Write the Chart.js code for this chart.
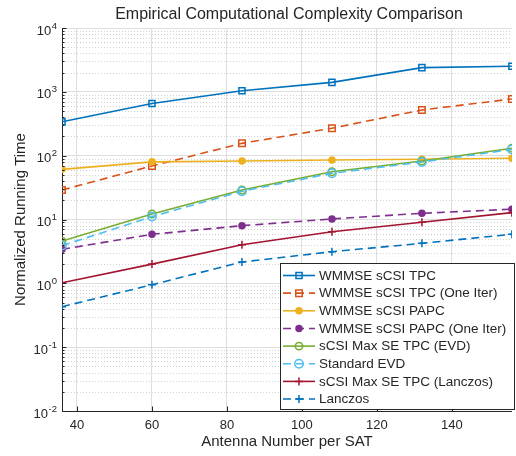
<!DOCTYPE html>
<html>
<head>
<meta charset="utf-8">
<script src="https://cdn.jsdelivr.net/npm/chart.js@4.4.0/dist/chart.umd.min.js"></script>
<style>
html, body { margin: 0; padding: 0; background: #fff; }
#wrap { width: 516px; height: 456px; overflow: hidden; }
</style>
</head>
<body>
<div id="wrap"><canvas id="complexity" width="518" height="456"></canvas></div>
<script>
// values
var antennas = [36, 60, 84, 108, 132, 156];
var wmmseTpc = [340, 656, 1037, 1407, 2392, 2517];
var wmmseTpcOne = [29, 69, 156, 269, 520, 773];
var wmmsePapc = [61, 80, 82.6, 85.7, 87.8, 91];
var wmmsePapcOne = [3.41, 5.86, 8.0, 10.2, 12.5, 14.5];
var maxSeEvd = [4.6, 12.2, 29, 56, 82.6, 131];
var standardEvd = [3.9, 11.1, 27.7, 53, 79.6, 125];
var maxSeLanczos = [1.02, 2.0, 4.03, 6.44, 9.04, 12.8];
var lanczos = [0.43, 0.95, 2.16, 3.13, 4.24, 5.86];

var seriesNames = [
    "WMMSE sCSI TPC",
    "WMMSE sCSI TPC (One Iter)",
    "WMMSE sCSI PAPC",
    "WMMSE sCSI PAPC (One Iter)",
    "sCSI Max SE TPC (EVD)",
    "Standard EVD",
    "sCSI Max SE TPC (Lanczos)",
    "Lanczos"
];
var seriesValues = [wmmseTpc, wmmseTpcOne, wmmsePapc, wmmsePapcOne, maxSeEvd, standardEvd, maxSeLanczos, lanczos];
var xTicks = [40, 60, 80, 100, 120, 140];
var yDecades = [-2, -1, 0, 1, 2, 3, 4];
var chartTitle = "Empirical Computational Complexity Comparison";

var FONT = "'Liberation Sans', Arial, Helvetica, sans-serif";
var TEXT = "#262626";
var DASH = [8, 5];

// line styles, MATLAB default colour order
var styles = [
    { color: "#0072BD", dash: [], point: "rect", r: 4.3, fill: false },
    { color: "#D95319", dash: DASH, point: "rect", r: 4.6, fill: false },
    { color: "#EDB120", dash: [], point: "circle", r: 3, fill: true },
    { color: "#7E2F8E", dash: DASH, point: "circle", r: 3, fill: true },
    { color: "#77AC30", dash: [], point: "circle", r: 3.7, fill: false },
    { color: "#4DBEEE", dash: DASH, point: "circle", r: 4.2, fill: false },
    { color: "#A2142F", dash: [], point: "cross", r: 4, fill: false },
    { color: "#0072BD", dash: DASH, point: "cross", r: 4, fill: false }
];

var datasets = [];
for (var i = 0; i < seriesNames.length; i++) {
    var pts = [];
    for (var j = 0; j < antennas.length; j++) {
        pts.push({ x: antennas[j], y: seriesValues[i][j] });
    }
    var s = styles[i];
    datasets.push({
        label: seriesNames[i],
        data: pts,
        borderColor: s.color,
        backgroundColor: s.color,
        borderWidth: 1.6,
        borderDash: s.dash,
        pointStyle: s.point,
        pointRadius: s.r,
        pointHoverRadius: s.r,
        pointBorderWidth: 1.5,
        pointBorderColor: s.color,
        pointBackgroundColor: s.fill ? s.color : "rgba(0,0,0,0)",
        tension: 0,
        order: seriesNames.length - 1 - i
    });
}

function isDecade(v) {
    var l = Math.log10(v);
    return Math.abs(l - Math.round(l)) < 1e-9;
}

var matlabLook = {
    id: "matlabLook",
    // dotted minor grid under the lines
    beforeDatasetsDraw: function(chart) {
        var ctx = chart.ctx;
        var area = chart.chartArea;
        var ys = chart.scales.y;
        ctx.save();
        ctx.strokeStyle = "#d2d2d2";
        ctx.lineWidth = 1;
        ctx.setLineDash([1, 2]);
        ys.ticks.forEach(function(t) {
            if (isDecade(t.value)) return;
            var py = Math.round(ys.getPixelForValue(t.value)) + 0.5;
            ctx.beginPath();
            ctx.moveTo(area.left, py);
            ctx.lineTo(area.right, py);
            ctx.stroke();
        });
        ctx.restore();
    },
    afterDraw: function(chart) {
        var ctx = chart.ctx;
        var area = chart.chartArea;
        var xs = chart.scales.x;
        var ys = chart.scales.y;
        ctx.save();
        // title centred over the axes
        ctx.fillStyle = TEXT;
        ctx.font = "16px " + FONT;
        ctx.textAlign = "center";
        ctx.textBaseline = "middle";
        ctx.fillText(chartTitle, (area.left + 516) / 2, 15);
        // inward ticks
        ctx.strokeStyle = TEXT;
        ctx.lineWidth = 1;
        ctx.setLineDash([]);
        ys.ticks.forEach(function(t) {
            var py = Math.round(ys.getPixelForValue(t.value)) + 0.5;
            var len = isDecade(t.value) ? 4.5 : 2.5;
            ctx.beginPath();
            ctx.moveTo(area.left, py);
            ctx.lineTo(area.left + len, py);
            ctx.stroke();
        });
        xTicks.forEach(function(v) {
            var px = Math.round(xs.getPixelForValue(v)) + 0.5;
            ctx.beginPath();
            ctx.moveTo(px, area.bottom);
            ctx.lineTo(px, area.bottom - 4.5);
            ctx.stroke();
        });
        // y labels 10^n
        yDecades.forEach(function(e) {
            var py = ys.getPixelForValue(Math.pow(10, e));
            var right = area.left - 5;
            var expStr = String(e);
            ctx.font = "9.5px " + FONT;
            var ew = ctx.measureText(expStr).width;
            ctx.textAlign = "right";
            ctx.textBaseline = "alphabetic";
            ctx.fillText(expStr, right, py + 0.5);
            ctx.font = "13px " + FONT;
            ctx.textBaseline = "middle";
            ctx.fillText("10", right - ew - 0.5, py + 3);
        });
        // legend
        var lx = 280.5, ly = 263.5, lw = 234, lh = 146;
        ctx.fillStyle = "#fff";
        ctx.fillRect(lx, ly, lw, lh);
        ctx.strokeStyle = TEXT;
        ctx.lineWidth = 1;
        ctx.strokeRect(lx, ly, lw, lh);
        for (var k = 0; k < seriesNames.length; k++) {
            var st = styles[k];
            var ry = 275.5 + k * 17.65;
            ctx.strokeStyle = st.color;
            ctx.lineWidth = 1.6;
            ctx.setLineDash(st.dash);
            ctx.beginPath();
            ctx.moveTo(283, ry);
            ctx.lineTo(315, ry);
            ctx.stroke();
            ctx.setLineDash([]);
            ctx.lineWidth = 1.5;
            ctx.fillStyle = st.fill ? st.color : "rgba(0,0,0,0)";
            Chart.helpers.drawPoint(ctx, { pointStyle: st.point, radius: st.r, borderWidth: 1.5, rotation: 0 }, 299, ry);
            ctx.fillStyle = TEXT;
            ctx.font = "13.5px " + FONT;
            ctx.textAlign = "left";
            ctx.textBaseline = "middle";
            ctx.fillText(seriesNames[k], 319, ry + 0.5);
        }
        ctx.restore();
    }
};

Chart.defaults.font.family = FONT;
Chart.defaults.color = TEXT;

var canvas = document.getElementById("complexity");
var complexityChart = new Chart(canvas, {
    type: "line",
    data: { datasets: datasets },
    plugins: [matlabLook],
    options: {
        responsive: false,
        animation: false,
        layout: { padding: { top: 28, left: 0, right: 0, bottom: 0 } },
        plugins: {
            legend: { display: false },
            tooltip: { enabled: false },
            title: { display: false }
        },
        scales: {
            x: {
                type: "linear",
                min: 36,
                max: 156,
                afterBuildTicks: function(scale) {
                    scale.ticks = xTicks.map(function(v) { return { value: v }; });
                },
                afterFit: function(scale) { scale.height = 45; },
                grid: { color: "#dedede", drawTicks: false },
                border: { color: TEXT, width: 1 },
                ticks: { font: { size: 13 }, padding: 7, color: TEXT },
                title: {
                    display: true,
                    text: "Antenna Number per SAT",
                    font: { size: 15 },
                    color: TEXT,
                    padding: { top: 0, bottom: 5 }
                }
            },
            y: {
                type: "logarithmic",
                min: 0.01,
                max: 10000,
                afterBuildTicks: function(scale) {
                    var t = [];
                    for (var e = -2; e < 4; e++) {
                        for (var m = 1; m < 10; m++) t.push({ value: m * Math.pow(10, e) });
                    }
                    t.push({ value: 10000 });
                    scale.ticks = t;
                },
                afterFit: function(scale) { scale.width = 62; },
                grid: {
                    drawTicks: false,
                    color: function(c) { return c.tick && isDecade(c.tick.value) ? "#dedede" : "rgba(0,0,0,0)"; }
                },
                border: { color: TEXT, width: 1 },
                ticks: { display: false },
                title: {
                    display: true,
                    text: "Normalized Running Time",
                    font: { size: 15 },
                    color: TEXT,
                    padding: { top: 11.5, bottom: 0 }
                }
            }
        }
    }
});
</script>
</body>
</html>
